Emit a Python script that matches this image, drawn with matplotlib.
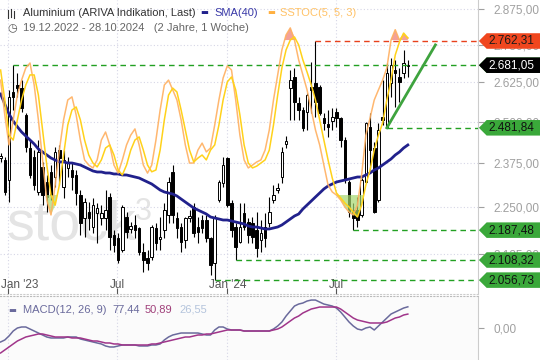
import matplotlib
matplotlib.use('Agg')
import matplotlib.pyplot as plt
import matplotlib.dates as mdates
import matplotlib.transforms as mtransforms
from matplotlib.path import Path
from matplotlib.lines import Line2D
from matplotlib.ticker import FuncFormatter, NullLocator, NullFormatter
import numpy as np
import pandas as pd

plt.rcParams['font.family'] = ['Liberation Sans', 'DejaVu Sans']

# weekly candles 19.12.2022 - 28.10.2024
weeks = pd.date_range('2022-12-19', periods=98, freq='7D')

opens = [2391, 2385, 2327, 2594, 2617, 2607, 2521, 2421, 2394, 2293,
         2365, 2321, 2350, 2336, 2415, 2307, 2362, 2356, 2342, 2284,
         2221, 2237, 2196, 2234, 2221, 2221, 2279, 2174, 2166, 2135,
         2223, 2191, 2202, 2193, 2129, 2114, 2116, 2193, 2164, 2188,
         2229, 2350, 2221, 2196, 2161, 2221, 2251, 2196, 2215, 2215,
         2166, 2101, 2270, 2319, 2391, 2262, 2196, 2156, 2234, 2210,
         2207, 2188, 2161, 2196, 2207, 2270, 2299, 2336, 2433, 2607,
         2642, 2559, 2537, 2531, 2610, 2623, 2610, 2512, 2494, 2503,
         2531, 2512, 2445, 2321, 2243, 2243, 2229, 2321, 2485, 2421,
         2270, 2515, 2485, 2623, 2665, 2642, 2655, 2679]
highs = [2406, 2394, 2600, 2681.05, 2655, 2633, 2528, 2445, 2415, 2445,
         2379, 2342, 2371, 2424, 2430, 2415, 2394, 2376, 2356, 2299,
         2276, 2265, 2276, 2262, 2256, 2299, 2290, 2188, 2180, 2256,
         2237, 2210, 2229, 2196, 2153, 2135, 2202, 2207, 2223, 2262,
         2336, 2371, 2237, 2207, 2223, 2243, 2262, 2223, 2229, 2229,
         2169, 2229, 2327, 2394, 2394, 2270, 2207, 2262, 2262, 2221,
         2223, 2237, 2215, 2234, 2279, 2313, 2319, 2424, 2457, 2665,
         2672, 2578, 2546, 2591, 2692, 2762.31, 2617, 2528, 2537, 2543,
         2543, 2515, 2454, 2327, 2262, 2279, 2333, 2500, 2528, 2439,
         2497, 2633, 2688, 2705, 2698, 2672, 2732, 2698]
lows = [2379, 2284, 2265, 2537, 2578, 2531, 2409, 2333, 2299, 2284,
        2256, 2237, 2270, 2307, 2313, 2276, 2336, 2299, 2256, 2174,
        2169, 2188, 2180, 2153, 2202, 2188, 2135, 2129, 2101, 2129,
        2166, 2180, 2166, 2122, 2077, 2083, 2108, 2135, 2135, 2166,
        2207, 2207, 2166, 2129, 2140, 2210, 2169, 2153, 2180, 2156,
        2070, 2056.73, 2265, 2307, 2251, 2169, 2108.32, 2153, 2188, 2153,
        2153, 2115, 2129, 2143, 2196, 2262, 2290, 2319, 2421, 2506,
        2506, 2506, 2472, 2475, 2528, 2515, 2521, 2475, 2454, 2475,
        2485, 2424, 2319, 2223, 2187.48, 2196, 2223, 2319, 2356, 2234,
        2265, 2491, 2481.84, 2578, 2546, 2562, 2639, 2642]
closes = [2397, 2293, 2578, 2578, 2607, 2543, 2424, 2342, 2313, 2409,
          2284, 2279, 2284, 2409, 2391, 2385, 2379, 2336, 2290, 2207,
          2265, 2221, 2256, 2248, 2234, 2243, 2169, 2148, 2108, 2251,
          2183, 2199, 2188, 2129, 2108, 2101, 2196, 2153, 2169, 2243,
          2321, 2229, 2193, 2156, 2221, 2226, 2180, 2183, 2193, 2166,
          2095, 2221, 2321, 2371, 2256, 2188, 2143, 2196, 2196, 2174,
          2169, 2140, 2180, 2166, 2237, 2284, 2304, 2409, 2442, 2633,
          2562, 2537, 2482, 2584, 2600, 2562, 2528, 2497, 2485, 2515,
          2512, 2445, 2327, 2237, 2221, 2215, 2327, 2497, 2415, 2237,
          2475, 2506, 2655, 2682, 2655, 2626, 2688, 2681.05]

sma40 = [2587.5, 2555.8, 2524.5, 2502.7, 2484.9, 2469.0, 2456.9, 2444.8, 2432.8, 2417.8,
         2408.9, 2400.0, 2391.1, 2385.2, 2379.4, 2379.4, 2376.4, 2376.4, 2373.5, 2370.6,
         2364.8, 2358.9, 2353.1, 2350.2, 2350.2, 2347.3, 2347.3, 2344.4, 2344.4, 2341.5,
         2341.5, 2338.6, 2335.7, 2332.8, 2327.0, 2321.3, 2315.6, 2307.1, 2298.5, 2292.9,
         2290.0, 2287.2, 2281.6, 2273.1, 2264.7, 2256.4, 2248.1, 2242.5, 2237.0, 2231.5,
         2223.3, 2220.5, 2217.8, 2215.0, 2215.0, 2212.3, 2209.6, 2206.9, 2204.2, 2198.7,
         2196.0, 2196.0, 2193.3, 2190.6, 2190.6, 2193.3, 2196.0, 2201.5, 2209.6, 2217.8,
         2226.0, 2231.5, 2245.3, 2256.4, 2267.5, 2278.8, 2290.0, 2301.4, 2309.9, 2315.6,
         2321.3, 2324.2, 2327.0, 2329.9, 2332.8, 2335.7, 2335.7, 2341.5, 2347.3, 2356.0,
         2361.8, 2370.6, 2379.4, 2388.2, 2400.0, 2408.9, 2420.8, 2429.8]

# SSTOC(5, 5, 3): orange and yellow line (0..100)
sstoc_k = [64.5, 51.0, 39.4, 49.1, 58.7, 64.5, 69.2, 71.1, 62.6, 49.1,
           33.6, 18.1, 12.3, 23.9, 37.4, 49.1, 56.8, 58.0, 51.0, 41.3,
           33.6, 31.6, 30.5, 33.6, 41.3, 44.4, 39.4, 31.6, 28.5, 33.6,
           39.4, 43.2, 45.6, 39.4, 31.6, 28.5, 31.6, 41.3, 52.9, 62.6,
           64.5, 60.7, 56.8, 49.1, 39.4, 32.4, 32.4, 37.4, 40.1, 36.7,
           38.2, 47.1, 56.8, 65.3, 70.0, 68.4, 56.8, 43.2, 33.6, 30.5,
           31.6, 32.8, 33.6, 37.4, 45.2, 56.8, 66.5, 76.2, 82.0, 84.7,
           80.0, 72.3, 66.5, 60.7, 52.9, 45.2, 39.4, 31.6, 23.9, 21.2,
           20.0, 18.1, 15.4, 13.4, 12.3, 16.1, 27.8, 43.2, 49.8, 56.8,
           60.7, 64.5, 69.2, 80.0, 84.0, 80.0, 82.0, 80.8]
sstoc_d = [68.4, 56.8, 43.2, 41.3, 49.1, 56.8, 62.6, 66.5, 66.5, 58.7,
           45.2, 31.6, 20.0, 16.1, 23.9, 35.5, 47.1, 52.9, 54.1, 49.1,
           41.3, 35.5, 32.4, 30.9, 33.6, 38.2, 39.4, 35.5, 29.7, 27.8,
           31.6, 37.4, 41.3, 42.5, 37.4, 31.6, 29.0, 29.7, 37.4, 49.1,
           58.7, 61.4, 59.9, 52.9, 45.2, 37.4, 32.8, 34.3, 35.5, 33.6,
           37.4, 39.4, 47.1, 56.8, 63.8, 65.7, 60.7, 51.0, 39.4, 32.4,
           30.5, 31.2, 32.4, 33.6, 37.4, 47.1, 58.7, 69.2, 76.2, 80.0,
           81.2, 78.1, 72.3, 67.6, 62.6, 56.8, 49.1, 41.3, 33.6, 26.6,
           20.8, 18.9, 16.9, 15.4, 13.4, 11.5, 16.1, 23.9, 29.7, 37.4,
           43.2, 47.9, 56.8, 64.5, 74.2, 79.2, 82.7, 80.8]

macd = [-51.1, -43.8, -29.2, -11.0, 0.0, 3.7, 3.7, -3.7, -11.0, -18.3,
        -25.6, -32.9, -36.5, -36.5, -36.5, -36.5, -32.9, -32.9, -32.9, -40.2,
        -43.8, -47.5, -51.1, -54.8, -58.4, -65.7, -69.4, -69.4, -65.7, -62.1,
        -62.1, -62.1, -62.1, -65.7, -65.7, -65.7, -62.1, -62.1, -58.4, -43.8,
        -32.9, -25.6, -21.9, -18.3, -18.3, -18.3, -18.3, -18.3, -21.9, -25.6,
        -25.6, -7.3, 3.7, 3.7, -3.7, -7.3, -7.3, -7.3, -11.0, -11.0,
        -11.0, -11.0, -11.0, -11.0, -11.0, -3.7, 7.3, 21.9, 43.8, 62.1,
        80.3, 87.6, 91.3, 98.6, 102.2, 102.2, 94.9, 87.6, 84.0, 80.3,
        73.0, 58.4, 40.2, 21.9, 7.3, -3.7, -7.3, 0.0, 3.7, -7.3,
        7.3, 21.9, 36.5, 51.1, 58.4, 65.7, 73.0, 77.44]
macd_signal = [-91.3, -80.3, -69.4, -58.4, -47.5, -40.2, -32.9, -29.2, -25.6, -21.9,
               -21.9, -25.6, -29.2, -32.9, -32.9, -32.9, -32.9, -36.5, -36.5, -36.5,
               -40.2, -43.8, -47.5, -47.5, -51.1, -54.8, -54.8, -58.4, -58.4, -62.1,
               -62.1, -62.1, -62.1, -62.1, -62.1, -62.1, -58.4, -58.4, -54.8, -51.1,
               -47.5, -43.8, -40.2, -36.5, -32.9, -32.9, -29.2, -25.6, -25.6, -21.9,
               -21.9, -18.3, -14.6, -11.0, -7.3, -7.3, -7.3, -7.3, -11.0, -11.0,
               -11.0, -11.0, -11.0, -11.0, -11.0, -7.3, -3.7, 3.7, 14.6, 25.6,
               36.5, 43.8, 54.8, 62.1, 69.4, 73.0, 76.7, 76.7, 76.7, 76.7,
               76.7, 69.4, 58.4, 47.5, 36.5, 29.2, 25.6, 21.9, 18.3, 18.3,
               18.3, 18.3, 21.9, 29.2, 36.5, 40.2, 47.5, 50.89]

# support / resistance levels and where they start
level_values = [2762.31, 2681.05, 2481.84, 2187.48, 2108.32, 2056.73]
level_starts = ['2024-05-27', '2023-01-09', '2024-09-23', '2024-07-29', '2024-01-15', '2023-12-11']
trend_dates = ['2024-09-23', '2024-12-13']
trend_prices = [2481.84, 2749.0]

tick_dates = ['2023-01-01', '2023-07-01', '2024-01-01', '2024-07-01']
tick_labels = ["Jan '23", 'Jul', "Jan '24", 'Jul']
price_ticks = [2125, 2250, 2375, 2500, 2625, 2750, 2875]


def de_fmt(v, pos=None):
    return f"{v:,.2f}".replace(',', 'X').replace('.', ',').replace('X', '.')


def tag_shape(x0, y0, width, height, mutation_size):
    pad = 0.15 * mutation_size
    x0, y0 = x0 - pad, y0 - pad
    x1, y1 = x0 + width + 2 * pad + 0.6 * mutation_size, y0 + height + 2 * pad
    tip = (y1 - y0) / 2
    return Path([(x0, y0), (x1, y0), (x1, y1), (x0, y1), (x0 - tip, (y0 + y1) / 2), (x0, y0)],
                closed=True)


x = mdates.date2num(weeks)
xmin, xmax = mdates.date2num(pd.Timestamp('2022-12-18')), mdates.date2num(pd.Timestamp('2025-02-22'))

fig = plt.figure(figsize=(5.4, 3.6), dpi=100)
ax = fig.add_axes([0, 66 / 360, 478 / 540, 294 / 360])
axm = fig.add_axes([0, 0, 478 / 540, 64 / 360])

# SSTOC overlay gets its own scale (twin created first, price ticks set after)
ax2 = ax.twinx()

# ---- price panel ----
ax.set_yscale('log')
ax.set_ylim(2021.8, 2905.6)
ax.set_xlim(xmin, xmax)

ax.text(0.014, 0.185, 'stock', transform=ax.transAxes, fontsize=40, color='#e4e4e4', zorder=0)
ax.text(0.283, 0.25, '3', transform=ax.transAxes, fontsize=22, color='#e4e4e4', zorder=0)

o, h, l, c = map(np.array, (opens, highs, lows, closes))
up = c >= o
ax.vlines(x, l, h, color='black', lw=0.8, zorder=2)
ax.bar(x[up], (c - o)[up], bottom=o[up], width=4.2, color='white', edgecolor='black', lw=0.7, zorder=3)
ax.bar(x[~up], (o - c)[~up], bottom=c[~up], width=4.2, color='black', edgecolor='black', lw=0.7, zorder=3)

ax.plot(x, sma40, color='#21218c', lw=2, zorder=4)

for val, start in zip(level_values, level_starts):
    col = '#e8401c' if val == max(level_values) else '#22a022'
    ax.hlines(val, mdates.date2num(pd.Timestamp(start)), xmax, colors=col, lw=1,
              linestyles=(0, (4, 3)), zorder=4)
ax.plot(mdates.date2num(pd.to_datetime(trend_dates)), trend_prices, color='#3ea33e', lw=2, zorder=5)

ax.set_xticks(mdates.date2num(pd.to_datetime(tick_dates)))
ax.set_xticklabels(tick_labels)
ax.tick_params(axis='x', direction='in', length=4, pad=-11, labelsize=8.5, colors='#555555')
ax.yaxis.tick_right()
ax.set_yticks(price_ticks)
ax.yaxis.set_minor_locator(NullLocator())
ax.yaxis.set_minor_formatter(NullFormatter())
ax.yaxis.set_major_formatter(FuncFormatter(de_fmt))
ax.tick_params(axis='y', which='both', left=False, labelleft=False, right=True, labelright=True,
               length=4, pad=7, labelsize=8.5, colors='#a0a0a0')
ax.grid(True, color='#d6d6e6', linestyle=(0, (1, 2)), lw=0.8)
for s in ['top', 'left']:
    ax.spines[s].set_visible(False)
ax.spines['right'].set_color('#cccccc')
ax.spines['bottom'].set_color('#cccccc')
ax.spines['bottom'].set_linestyle((0, (1, 2)))

first = ax.get_xticklabels()[0]
first.set_horizontalalignment('left')
first.set_transform(first.get_transform() + mtransforms.ScaledTranslation(-5 / 72, 0, fig.dpi_scale_trans))

# level tags on the right axis
blend = mtransforms.blended_transform_factory(ax.transAxes, ax.transData)
for val in level_values:
    if val == max(level_values):
        fc, tc = '#f0461e', '#1a1a1a'
    else:
        fc, tc = '#3aa83a', '#111111'
    ax.text(1.0218, val, de_fmt(val), transform=blend, fontsize=8.5, color=tc, va='center', ha='left',
            clip_on=False, zorder=10, bbox=dict(boxstyle=tag_shape, fc=fc, ec='none'))
last = closes[-1]
ax.text(1.0218, last, de_fmt(last), transform=blend, fontsize=8.5, color='white', va='center', ha='left',
        clip_on=False, zorder=11, bbox=dict(boxstyle=tag_shape, fc='black', ec='none'))

ax2.set_ylim(-18.3, 95.5)
ax2.set_xlim(xmin, xmax)
ax2.set_axis_off()
k, d = np.array(sstoc_k), np.array(sstoc_d)
lo, hi = np.minimum(k, d), np.maximum(k, d)
ax2.fill_between(x, lo, 20, where=lo < 20, interpolate=True, color='#a6d86e', alpha=0.7, lw=0)
ax2.fill_between(x, hi, 80, where=hi > 80, interpolate=True, color='#f08a80', alpha=0.8, lw=0)
ax2.plot(x, k, color='#ffb060', lw=1.1, alpha=0.9)
ax2.plot(x, d, color='#ffd21a', lw=1.1)

# ---- MACD panel ----
axm.set_facecolor('#fbfbfb')
axm.set_xlim(xmin, xmax)
axm.set_ylim(-117, 117)
axm.plot(x, macd, color='#6a6a9c', lw=1.1)
axm.plot(x, macd_signal, color='#a0358a', lw=1.1)
axm.set_xticks(mdates.date2num(pd.to_datetime(tick_dates)))
axm.set_xticklabels([])
axm.tick_params(axis='x', length=0)
axm.set_yticks([0])
axm.yaxis.set_major_formatter(FuncFormatter(de_fmt))
axm.yaxis.tick_right()
axm.tick_params(axis='y', length=4, pad=7, labelsize=8.5, colors='#a0a0a0')
axm.grid(True, axis='x', color='#d6d6e6', linestyle=(0, (1, 2)), lw=0.8)
for s in ['left', 'bottom']:
    axm.spines[s].set_visible(False)
axm.spines['right'].set_color('#cccccc')
axm.spines['top'].set_color('#bbbbbb')
axm.spines['top'].set_linestyle((0, (1, 2)))


# ---- legends ----
def px(xp, yp):
    return xp / 540, 1 - yp / 360


for dx, y0, y1 in [(8, 10, 18), (11, 9, 17), (14, 11, 18)]:
    fig.add_artist(Line2D([dx / 540, dx / 540], [1 - y1 / 360, 1 - y0 / 360], color='#333333', lw=0.8))
fig.text(*px(7, 28), '\u25F7', fontsize=8, color='#555555', va='center', family='DejaVu Sans')
fig.text(*px(23, 13), 'Aluminium (ARIVA Indikation, Last)', fontsize=8, color='#333333', va='center')
fig.text(*px(200, 13), '\u25AC', fontsize=6, color='#21218c', va='center', family='DejaVu Sans')
fig.text(*px(214, 13), 'SMA(40)', fontsize=8, color='#3a3aa8', va='center')
fig.text(*px(267, 13), '\u25AC', fontsize=6, color='#ffb040', va='center', family='DejaVu Sans')
fig.text(*px(280, 13), 'SSTOC(5, 5, 3)', fontsize=8, color='#ffc266', va='center')
fig.text(*px(23, 28), '19.12.2022 - 28.10.2024   (2 Jahre, 1 Woche)', fontsize=8, color='#666666', va='center')

fig.text(*px(8, 310), '\u25AC', fontsize=6, color='#6a6a9c', va='center', family='DejaVu Sans')
fig.text(*px(23, 310), 'MACD(12, 26, 9)', fontsize=8, color='#6a6a9c', va='center')
fig.text(*px(112, 310), de_fmt(macd[-1]), fontsize=8, color='#6a6a9c', va='center')
fig.text(*px(145, 310), de_fmt(macd_signal[-1]), fontsize=8, color='#a0407a', va='center')
fig.text(*px(179, 310), '26,55', fontsize=8, color='#b4c4dc', va='center')

fig.savefig('out.png', dpi=100)
